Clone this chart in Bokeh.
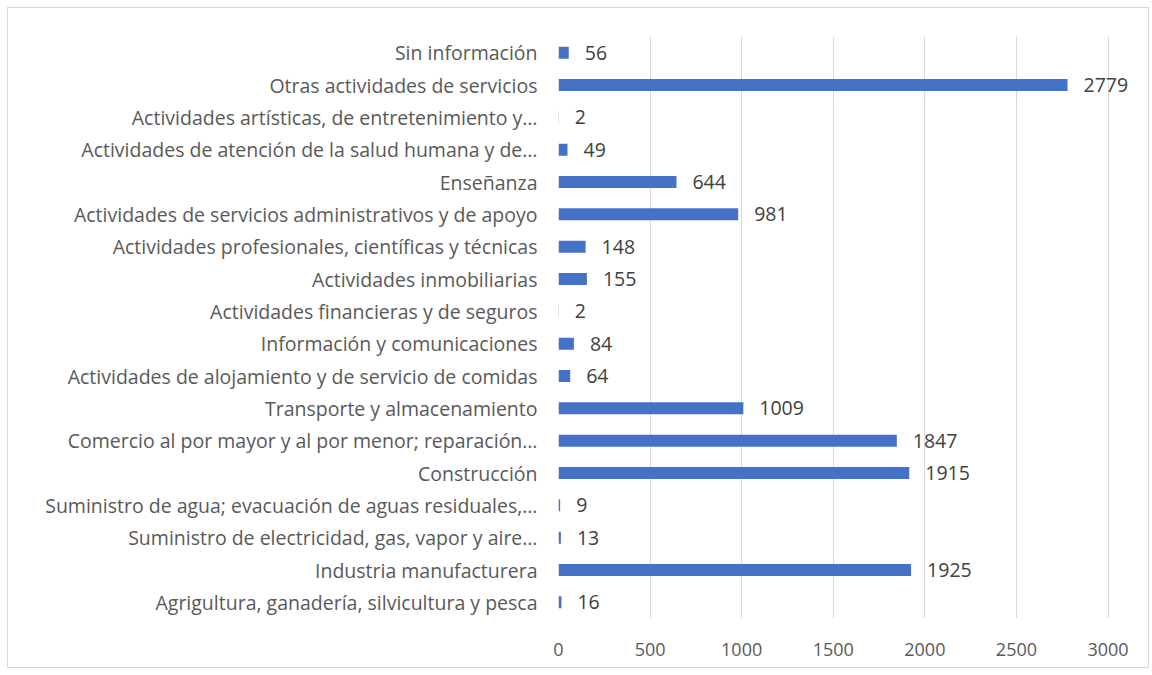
from bokeh.plotting import figure
from bokeh.models import ColumnDataSource, FactorRange, Range1d, FixedTicker
from bokeh.embed import file_html
from bokeh.resources import INLINE
from bokeh.core.properties import value

categories = [
    "Agrigultura, ganadería, silvicultura y pesca",
    "Industria manufacturera",
    "Suministro de electricidad, gas, vapor y aire…",
    "Suministro de agua; evacuación de aguas residuales,…",
    "Construcción",
    "Comercio al por mayor y al por menor; reparación…",
    "Transporte y almacenamiento",
    "Actividades de alojamiento y de servicio de comidas",
    "Información y comunicaciones",
    "Actividades financieras y de seguros",
    "Actividades inmobiliarias",
    "Actividades profesionales, científicas y técnicas",
    "Actividades de servicios administrativos y de apoyo",
    "Enseñanza",
    "Actividades de atención de la salud humana y de…",
    "Actividades artísticas, de entretenimiento y…",
    "Otras actividades de servicios",
    "Sin información",
]
values = [16, 1925, 13, 9, 1915, 1847, 1009, 64, 84, 2, 155, 148, 981, 644, 49, 2, 2779, 56]
value_labels = [str(v) for v in values]
x_ticks = [0, 500, 1000, 1500, 2000, 2500, 3000]

FONT = "Open Sans"
LABEL_COLOR = "#595959"

src = ColumnDataSource(dict(cat=categories, val=values, lab=value_labels))

p = figure(
    width=1142, height=661,
    y_range=FactorRange(*categories, range_padding=0),
    x_range=Range1d(0, 3221),
    output_backend="svg", toolbar_location=None,
    min_border_left=550, min_border_right=2,
    min_border_top=28, min_border_bottom=51,
)
p.styles = {"border": "1px solid #d9d9d9", "margin-left": "7px", "margin-top": "7px"}
p.outline_line_color = None
p.background_fill_color = "white"
p.border_fill_color = "white"

p.hbar(y="cat", right="val", left=0, height=0.37, source=src,
       fill_color="#4472C4", line_color=None)

p.text(x="val", y="cat", text="lab", source=src, x_offset=16,
       text_align="left", text_baseline="middle",
       text_font=value(FONT), text_font_size="19.5px", text_color="#404040")

# x axis
p.xaxis.ticker = FixedTicker(ticks=x_ticks)
p.xaxis.axis_line_color = None
p.xaxis.major_tick_line_color = None
p.xaxis.minor_tick_line_color = None
p.xaxis.major_label_standoff = 18
p.xaxis.major_label_text_font = FONT
p.xaxis.major_label_text_font_size = "18px"
p.xaxis.major_label_text_color = LABEL_COLOR

# y axis
p.yaxis.axis_line_color = None
p.yaxis.major_tick_line_color = None
p.yaxis.minor_tick_line_color = None
p.yaxis.major_label_standoff = 15
p.yaxis.major_label_text_font = FONT
p.yaxis.major_label_text_font_size = "19.5px"
p.yaxis.major_label_text_color = LABEL_COLOR

p.ygrid.grid_line_color = None
p.xgrid.grid_line_color = "#d9d9d9"
p.xgrid.grid_line_width = 1

open("out.html", "w").write(file_html(p, INLINE))
